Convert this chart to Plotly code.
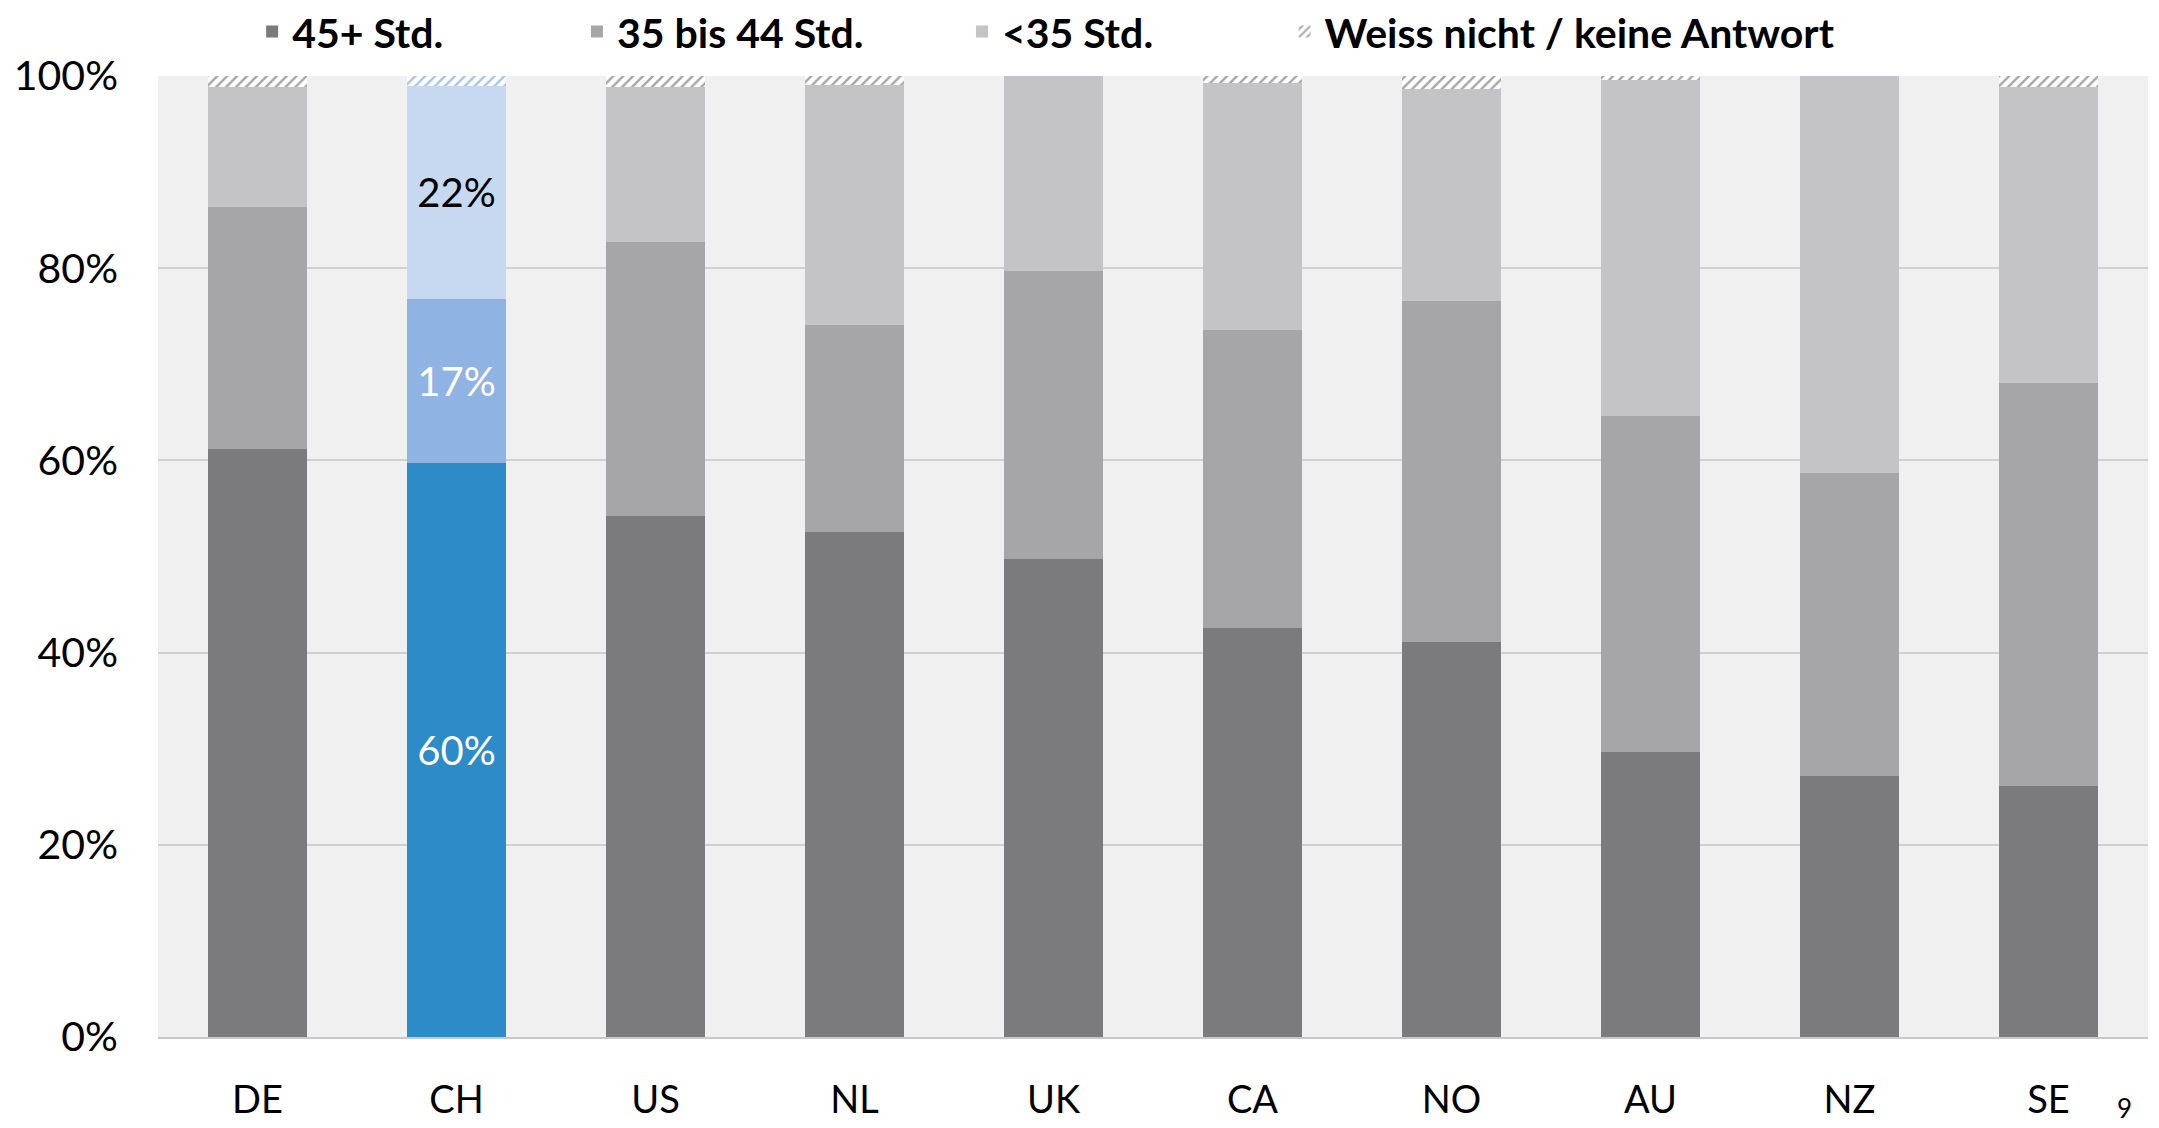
import plotly.graph_objects as go

countries = ["DE", "CH", "US", "NL", "UK", "CA", "NO", "AU", "NZ", "SE"]
series_names = ["45+ Std.", "35 bis 44 Std.", "<35 Std.", "Weiss nicht / keine Antwort"]
h45 = [61.2, 59.7, 54.2, 52.6, 49.7, 42.6, 41.1, 29.7, 27.2, 26.1]
h35_44 = [25.2, 17.1, 28.5, 21.5, 30.0, 31.0, 35.5, 34.9, 31.5, 42.0]
h_lt35 = [12.5, 22.2, 16.2, 25.0, 20.3, 25.7, 22.0, 35.0, 41.3, 30.8]
weiss = [1.1, 1.0, 1.1, 0.9, 0.0, 0.7, 1.4, 0.4, 0.0, 1.1]
highlight = "CH"
y_ticks = [0, 20, 40, 60, 80, 100]
y_ticktext = ["0%", "20%", "40%", "60%", "80%", "100%"]

grey_cols = ["#7b7b7d", "#a6a6a8", "#c4c4c6"]
blue_cols = ["#2d8bc8", "#8fb3e2", "#c6d9f0"]
label_cols = ["white", "white", "black"]
FONT = "Lato"
W, H = 2151, 1120
legend_ids = ["legend", "legend2", "legend3", "legend4"]
legend_x = [0.1135, 0.2645, 0.4435, 0.5935]  # container fractions

fig = go.Figure()
for i, (name, vals) in enumerate(zip(series_names[:3], [h45, h35_44, h_lt35])):
    colors = [blue_cols[i] if c == highlight else grey_cols[i] for c in countries]
    texts = [f"{round(v)}%" if c == highlight else "" for c, v in zip(countries, vals)]
    fig.add_trace(go.Bar(
        x=countries, y=vals, name=name, legend=legend_ids[i],
        marker=dict(color=colors, line=dict(width=0)),
        text=texts, textposition="inside", insidetextanchor="middle",
        textfont=dict(family=FONT, size=40, color=label_cols[i]),
        textangle=0, width=0.5,
    ))

fig.add_trace(go.Bar(
    x=countries, y=weiss, name=series_names[3], width=0.5, legend=legend_ids[3],
    marker=dict(
        color="white", line=dict(width=0),
        pattern=dict(shape="/", size=7, solidity=0.35,
                     fgcolor=["#a9c6e8" if c == highlight else "#a8a8a8" for c in countries],
                     bgcolor="white"),
    ),
))

legend_common = dict(
    orientation="h", xref="container", yref="container",
    xanchor="left", y=0.9786, yanchor="middle",
    font=dict(family=FONT, size=41, color="black", weight="bold"),
    bgcolor="rgba(0,0,0,0)",
)

layout_legends = {}
for lid, lx in zip(legend_ids, legend_x):
    layout_legends[lid] = dict(legend_common, x=lx)

fig.update_layout(
    template="none",
    barmode="stack",
    width=W, height=H,
    paper_bgcolor="white", plot_bgcolor="#f0f0f0",
    margin=dict(l=150, r=11, t=68, b=91, autoexpand=False),
    font=dict(family=FONT, color="black"),
    showlegend=True,
    **layout_legends,
)
fig.update_yaxes(
    range=[0, 100], tickmode="array", tickvals=y_ticks, ticktext=y_ticktext,
    showgrid=True, gridcolor="#d0d0d0", gridwidth=2,
    zeroline=False, showline=False, automargin=False,
    tickfont=dict(family=FONT, size=41, color="black"),
    ticks="", ticklabelstandoff=39,
)
fig.update_xaxes(
    showline=True, linecolor="#c8c8c8", linewidth=2, showgrid=False, automargin=False,
    tickfont=dict(family=FONT, size=38, color="black"),
    ticks="", ticklabelstandoff=28,
)
fig.add_annotation(
    text="9", xref="paper", yref="paper", x=0.9884, y=-0.074,
    xanchor="center", yanchor="middle", showarrow=False,
    font=dict(family=FONT, size=26, color="black"),
)
fig.write_html("out.html")
